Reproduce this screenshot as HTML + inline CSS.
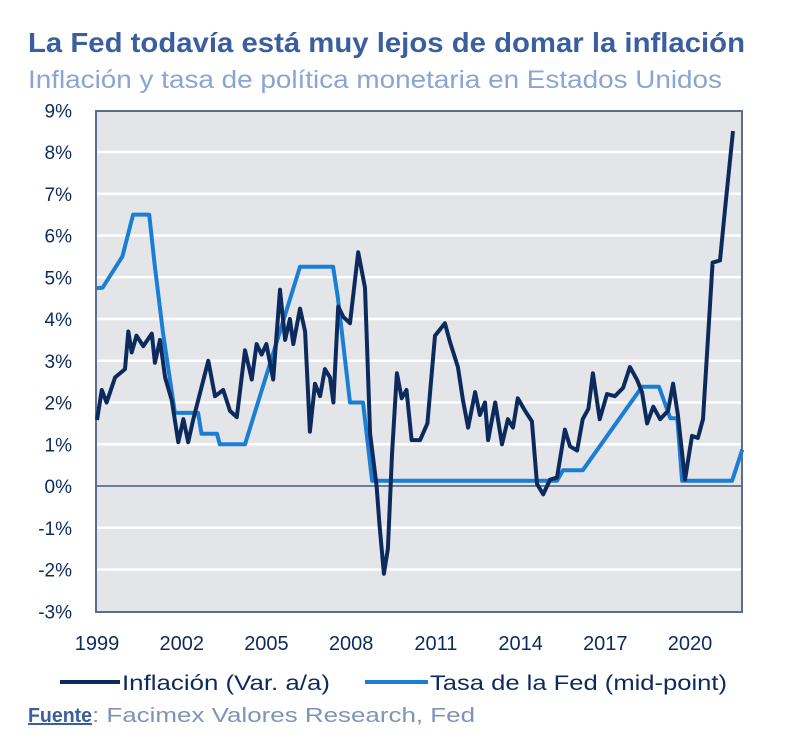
<!DOCTYPE html>
<html><head><meta charset="utf-8"><style>
html,body{margin:0;padding:0;background:#fff;}
svg{display:block;font-family:"Liberation Sans",sans-serif;}
</style></head><body>
<svg id="chart" width="800" height="753" viewBox="0 0 800 753">
<text x="28" y="52" font-size="28" font-weight="bold" fill="#3a5f9e" textLength="717" lengthAdjust="spacingAndGlyphs">La Fed todavía está muy lejos de domar la inflación</text>
<text x="28" y="88" font-size="25" fill="#8aa4d4" textLength="694" lengthAdjust="spacingAndGlyphs">Inflación y tasa de política monetaria en Estados Unidos</text>
<rect x="96" y="111" width="646" height="501" fill="#e4e5e9" stroke="#5d6c8c" stroke-width="2"/>
<g id="grid"></g>
<g id="yticks"></g>
<g id="xticks"></g>
<g id="series"></g>
<g>
<g>
<line x1="60" y1="682" x2="120" y2="682" stroke="#0d2a5c" stroke-width="4"/>
<text x="122" y="690" font-size="21" fill="#0d2a5c" textLength="208" lengthAdjust="spacingAndGlyphs">Inflación (Var. a/a)</text></g>
<g>
<line x1="365" y1="682" x2="428" y2="682" stroke="#1a7fd4" stroke-width="4"/>
<text x="430" y="690" font-size="21" fill="#0d2a5c" textLength="297" lengthAdjust="spacingAndGlyphs">Tasa de la Fed (mid-point)</text></g>
</g>
<g>
<text x="28" y="722" font-size="20" font-weight="bold" fill="#3a5f9e" text-decoration="underline" textLength="64" lengthAdjust="spacingAndGlyphs">Fuente</text>
<text x="92" y="722" font-size="20" fill="#7f93b8" textLength="383" lengthAdjust="spacingAndGlyphs">: Facimex Valores Research, Fed</text>
</g>
</svg>
<script>
const yTicks=[9,8,7,6,5,4,3,2,1,0,-1,-2,-3];
const xTickYears=[1999,2002,2005,2008,2011,2014,2017,2020];
const inflT=[1999.0,1999.17,1999.34,1999.64,1999.99,2000.11,2000.23,2000.4,2000.64,2000.94,2001.05,2001.23,2001.41,2001.65,2001.88,2002.06,2002.23,2002.41,2002.94,2003.18,2003.47,2003.71,2003.95,2004.24,2004.48,2004.65,2004.83,2005.0,2005.24,2005.48,2005.66,2005.83,2005.95,2006.19,2006.37,2006.54,2006.72,2006.9,2007.07,2007.25,2007.37,2007.54,2007.72,2007.96,2008.25,2008.49,2008.67,2008.9,2009.0,2009.16,2009.3,2009.45,2009.62,2009.79,2009.96,2010.14,2010.44,2010.7,2010.97,2011.32,2011.5,2011.78,2011.96,2012.14,2012.39,2012.56,2012.74,2012.85,2013.1,2013.34,2013.55,2013.73,2013.9,2014.16,2014.4,2014.58,2014.8,2015.04,2015.29,2015.57,2015.75,2016.0,2016.2,2016.4,2016.56,2016.8,2017.06,2017.34,2017.63,2017.87,2018.12,2018.3,2018.48,2018.7,2018.94,2019.22,2019.4,2019.57,2019.82,2020.07,2020.28,2020.46,2020.8,2021.06,2021.24,2021.52];
const inflV=[1.58,2.3,2.0,2.6,2.8,3.7,3.2,3.6,3.35,3.65,2.95,3.5,2.6,2.05,1.05,1.6,1.05,1.6,3.0,2.15,2.3,1.8,1.65,3.25,2.55,3.4,3.15,3.4,2.55,4.7,3.5,4.0,3.4,4.25,3.7,1.3,2.45,2.15,2.8,2.6,2.0,4.3,4.05,3.9,5.6,4.75,1.25,0.0,-0.9,-2.1,-1.5,0.8,2.7,2.1,2.3,1.1,1.1,1.5,3.6,3.9,3.45,2.85,2.05,1.4,2.25,1.7,2.0,1.1,2.0,1.0,1.6,1.4,2.1,1.8,1.55,0.05,-0.2,0.15,0.2,1.35,0.95,0.85,1.6,1.85,2.7,1.6,2.2,2.15,2.35,2.85,2.55,2.25,1.5,1.9,1.6,1.8,2.45,1.7,0.15,1.2,1.15,1.6,5.35,5.4,6.65,8.5];
const fedT=[1999.0,1999.2,1999.9,2000.28,2000.85,2001.05,2001.34,2001.76,2002.58,2002.7,2003.25,2003.35,2004.24,2006.19,2007.36,2007.53,2007.96,2008.42,2008.74,2015.29,2015.5,2016.2,2018.3,2018.9,2019.3,2019.55,2019.72,2021.49,2021.85];
const fedV=[4.74,4.75,5.5,6.5,6.5,5.25,3.65,1.75,1.75,1.25,1.25,1.0,1.0,5.25,5.25,4.5,2.0,2.0,0.125,0.125,0.375,0.375,2.375,2.375,1.625,1.625,0.125,0.125,0.875];

const NS='http://www.w3.org/2000/svg';
const X0=97,PX_PER_YEAR=28.24,Y_ZERO=486,PX_PER_PCT=41.75;
function xs(t){return X0+(t-1999)*PX_PER_YEAR;}
function ys(v){return Y_ZERO-v*PX_PER_PCT;}
const grid=document.getElementById('grid'),yg=document.getElementById('yticks'),xg=document.getElementById('xticks'),sg=document.getElementById('series');
yTicks.forEach(v=>{
  if(v!==9&&v!==-3&&v!==0){
    const l=document.createElementNS(NS,'line');
    l.setAttribute('x1',97);l.setAttribute('x2',741);l.setAttribute('y1',ys(v));l.setAttribute('y2',ys(v));
    l.setAttribute('stroke','#ffffff');l.setAttribute('stroke-width','2.5');
    
    
    grid.appendChild(l);
  }
  const t=document.createElementNS(NS,'text');
  t.setAttribute('x',72);t.setAttribute('y',ys(v)+7);t.setAttribute('text-anchor','end');
  t.setAttribute('font-size','19');t.setAttribute('fill','#0d2a5c');
  t.textContent=v+'%';
  
  
  yg.appendChild(t);
});
const zl=document.createElementNS(NS,'line');
zl.setAttribute('x1',97);zl.setAttribute('x2',741);zl.setAttribute('y1',ys(0));zl.setAttribute('y2',ys(0));
zl.setAttribute('stroke','#4a5a7a');zl.setAttribute('stroke-width','1.5');


grid.appendChild(zl);
xTickYears.forEach(y=>{
  const t=document.createElementNS(NS,'text');
  t.setAttribute('x',xs(y));t.setAttribute('y',650);t.setAttribute('text-anchor','middle');
  t.setAttribute('font-size','20');t.setAttribute('fill','#0d2a5c');
  t.textContent=y;
  
  
  xg.appendChild(t);
});
function line(T,V,color,name){
  const p=document.createElementNS(NS,'polyline');
  p.setAttribute('points',T.map((t,i)=>xs(t).toFixed(1)+','+ys(V[i]).toFixed(1)).join(' '));
  p.setAttribute('fill','none');p.setAttribute('stroke',color);p.setAttribute('stroke-width','4');
  p.setAttribute('stroke-linejoin','round');
  
  
  sg.appendChild(p);
}
line(fedT,fedV,'#1a7fd4','fed-rate-line');
line(inflT,inflV,'#0d2a5c','inflation-line');
</script>
</body></html>
